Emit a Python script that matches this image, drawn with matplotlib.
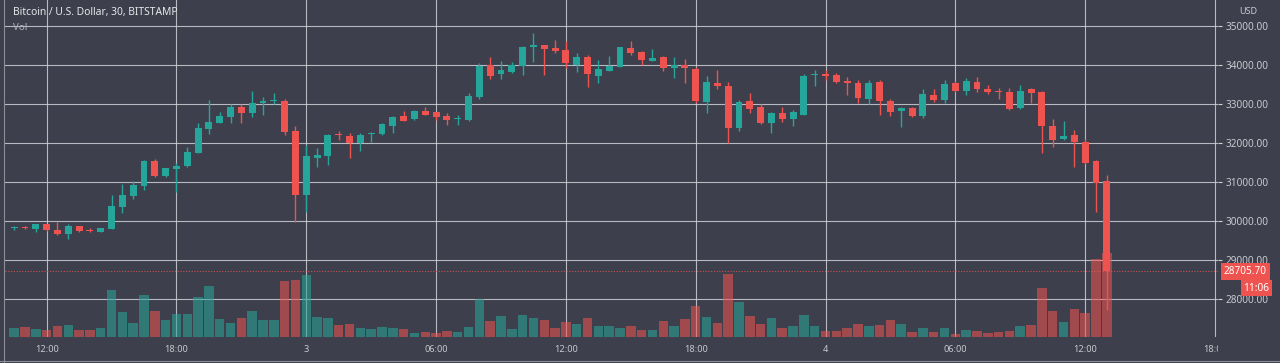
import numpy as np
import matplotlib
matplotlib.use("Agg")
import matplotlib.pyplot as plt
from matplotlib.lines import Line2D
from matplotlib.transforms import Affine2D, Bbox, TransformedBbox, blended_transform_factory

plt.rcParams["font.family"] = ["Noto Sans", "DejaVu Sans"]

BG = "#3d404c"
UP = "#26a69a"
DOWN = "#ef5350"
GRID = "#cfd1d6"
TXT = "#c8cad0"

# velas de 30 min, BTC/USD Bitstamp, del 2 (10:30) al 4 (13:00)
opens = [29820, 29840, 29793, 29921, 29767, 29664, 29861, 29745, 29724, 29801,
         30348, 30646, 30894, 31543, 31150, 31321, 31398, 31748, 32354, 32499,
         32670, 32909, 32772, 33029, 33060, 33080, 32303, 30663, 31620, 31671,
         32200, 32175, 32004, 32215, 32218, 32431, 32679, 32602, 32824, 32781,
         32696, 32615, 32585, 33183, 33994, 33755, 33814, 33976, 34446, 34497,
         34429, 34378, 33994, 34207, 33712, 33848, 33951, 34438, 34318, 34105,
         34190, 33908, 33994, 33891, 33055, 33541, 33456, 32389, 33072, 32927,
         32517, 32756, 32611, 32713, 33738, 33755, 33738, 33584, 33524, 33123,
         33567, 33072, 32824, 32884, 32696, 33225, 33097, 33523, 33336, 33566,
         33370, 33336, 33310, 32883, 33370, 33293, 32430, 32089, 32200, 32029,
         31534, 31022]
highs = [29880, 29870, 29930, 29925, 29980, 29921, 29880, 29818, 29830, 30663,
         30945, 31010, 31560, 31594, 31360, 31474, 31901, 32499, 33097, 32781,
         32994, 32994, 33327, 33165, 33268, 33114, 32439, 31944, 31859, 32226,
         32312, 32243, 32243, 32286, 32517, 32680, 32824, 32830, 32909, 32800,
         32756, 32713, 33268, 34053, 34207, 34104, 34079, 34480, 34805, 34515,
         34634, 34617, 34292, 34250, 34122, 34224, 34463, 34617, 34360, 34403,
         34225, 34207, 34147, 33951, 33712, 33866, 33550, 33097, 33268, 32995,
         32799, 32927, 32841, 33755, 33866, 33866, 33780, 33695, 33610, 33610,
         33610, 33123, 32910, 32927, 33371, 33379, 33609, 33592, 33651, 33677,
         33481, 33395, 33395, 33481, 33395, 33336, 32601, 32559, 32328, 32089,
         31560, 31176]
lows = [29760, 29790, 29724, 29740, 29647, 29528, 29720, 29720, 29710, 29780,
        30211, 30552, 30791, 31130, 31130, 30749, 31380, 31730, 32226, 32499,
        32516, 32499, 32653, 32713, 33000, 32200, 29980, 30237, 31372, 31432,
        32072, 31603, 31799, 32013, 32200, 32243, 32560, 32590, 32710, 32585,
        32457, 32457, 32570, 33114, 33626, 33635, 33800, 33737, 34062, 33737,
        34292, 33908, 33823, 33421, 33524, 33830, 33940, 34250, 34000, 34090,
        33849, 33652, 33524, 33012, 32773, 33371, 31987, 32303, 32756, 32483,
        32244, 32543, 32431, 32700, 33456, 33610, 33524, 33225, 33012, 32995,
        32713, 32687, 32414, 32670, 32628, 33055, 33011, 33310, 33225, 33310,
        33242, 33114, 32840, 32866, 33011, 31730, 31884, 32080, 31389, 31460,
        30236, 27718]
closes = [29830, 29810, 29921, 29767, 29664, 29878, 29750, 29735, 29818, 30373,
          30663, 30920, 31543, 31150, 31346, 31406, 31773, 32380, 32525, 32687,
          32909, 32772, 33029, 33071, 33080, 32268, 30663, 31662, 31688, 32192,
          32190, 31987, 32209, 32226, 32491, 32653, 32568, 32807, 32721, 32653,
          32585, 32625, 33200, 33976, 33712, 33866, 33994, 34463, 34497, 34412,
          34344, 34036, 34207, 33754, 33891, 33968, 34446, 34292, 34122, 34181,
          33908, 33994, 33908, 33080, 33550, 33464, 32389, 33055, 32867, 32517,
          32756, 32611, 32781, 33721, 33755, 33721, 33567, 33524, 33140, 33541,
          33080, 32798, 32884, 32696, 33242, 33097, 33498, 33336, 33592, 33370,
          33310, 33293, 32866, 33327, 33267, 32430, 32072, 32174, 32029, 31474,
          30979, 28705.70]
volumes = [232, 250, 193, 175, 283, 293, 175, 175, 225, 1175,
           625, 358, 1050, 643, 425, 568, 575, 993, 1275, 443,
           350, 468, 643, 425, 425, 1400, 1425, 1543, 495, 475,
           293, 333, 233, 193, 250, 225, 193, 108, 125, 108,
           150, 125, 250, 958, 393, 525, 193, 543, 483, 433,
           233, 375, 318, 483, 275, 275, 233, 275, 175, 175,
           400, 275, 458, 768, 500, 350, 1583, 868, 533, 318,
           475, 218, 275, 558, 275, 150, 150, 233, 318, 275,
           300, 418, 325, 125, 225, 113, 218, 75, 175, 158,
           93, 125, 158, 283, 300, 1218, 658, 368, 700, 593,
           1943, 2108]

time_ticks = [3, 15, 27, 39, 51, 63, 75, 87, 99, 111]
time_labels = ["12:00", "18:00", "3", "06:00", "12:00", "18:00",
               "4", "06:00", "12:00", "18:00"]
price_ticks = [28000, 29000, 30000, 31000, 32000, 33000, 34000, 35000]
last_price = 28705.70
countdown = "11:06"

VOL_TOP = 8425  # volumen que llega al borde superior del panel

fig = plt.figure(figsize=(12.8, 3.63), dpi=100, facecolor=BG)
W, H = 1280, 363
ax = fig.add_axes([5 / W, (H - 337) / H, (1218 - 5) / W, 337 / H])
ax.set_facecolor(BG)
for s in ax.spines.values():
    s.set_visible(False)

x = np.arange(len(opens))
o, h, l, c = (np.array(v, dtype=float) for v in (opens, highs, lows, closes))
up = c >= o
colors = np.where(up, UP, DOWN)

# volumen en la parte baja del panel (escala propia)
vol_y = Affine2D().scale(1, 1 / VOL_TOP) + ax.transAxes
vol_trans = blended_transform_factory(ax.transData, vol_y)
ax.bar(x, volumes, width=0.88, color=colors, alpha=0.56, linewidth=0,
       transform=vol_trans, zorder=2)

# velas
ax.vlines(x, l, h, colors=colors, linewidth=1, zorder=3)
ax.bar(x, np.maximum(np.abs(c - o), 25), bottom=np.minimum(o, c), width=0.64,
       color=colors, linewidth=0, zorder=4)

ax.axhline(last_price, color=DOWN, linestyle=(0, (1, 1.5)), linewidth=0.8,
           alpha=0.8, zorder=2.5)

ax.set_xlim(-0.85, 111.28)
ax.set_ylim(27026, 35658)

ax.set_xticks(time_ticks)
ax.set_xticklabels(time_labels)
ax.set_yticks(price_ticks)
ax.set_yticklabels([f"{p:.2f}" for p in price_ticks])
ax.yaxis.tick_right()
ax.tick_params(axis="x", length=0, pad=5.5, labelsize=6.6, labelcolor=TXT)
ax.tick_params(axis="y", length=3, width=0.8, color=GRID, pad=2.3,
               labelsize=7.2, labelcolor=TXT)
ax.set_axisbelow(True)
ax.grid(True, color=GRID, linewidth=0.8, alpha=0.85)

# etiquetas de precio actual y cuenta regresiva
lbl_trans = blended_transform_factory(ax.transAxes, ax.transData)
ax.annotate(f"{last_price:.2f}", xy=(1, last_price), xycoords=lbl_trans,
            xytext=(6, 0), textcoords="offset pixels", ha="left", va="center",
            fontsize=7.2, color="white", annotation_clip=False,
            bbox=dict(boxstyle="square,pad=0.32", fc=DOWN, ec="none"))
ax.annotate(countdown, xy=(1, last_price), xycoords=lbl_trans,
            xytext=(51, -17), textcoords="offset pixels", ha="right", va="center",
            fontsize=7.2, color="white", annotation_clip=False,
            bbox=dict(boxstyle="square,pad=0.25", fc=DOWN, ec="none"))

fig.text(1248 / W, 1 - 12 / H, "USD", ha="center", va="center",
         fontsize=6.5, color=TXT)
fig.text(13 / W, 1 - 13 / H, "Bitcoin / U.S. Dollar, 30, BITSTAMP",
         ha="left", va="center", fontsize=7.4, fontweight="bold", color="#e6e7ea")
fig.text(13 / W, 1 - 27 / H, "Vol", ha="left", va="center",
         fontsize=7, color="#b0b3bb")

# borde fino de la captura
fig.add_artist(Line2D([4 / W, 4 / W], [0, 1], color="#8b8e97", linewidth=0.8))
fig.add_artist(Line2D([0, 1], [2 / H, 2 / H], color="#8b8e97", linewidth=0.8))

# la última hora queda cortada por la escala de precios
fig.canvas.draw()
clip = TransformedBbox(Bbox([[0, 0], [1218 / W, 1]]), fig.transFigure)
for t in ax.get_xticklabels():
    t.set_clip_on(True)
    t.set_clip_box(clip)

fig.savefig("out.png", dpi=100, facecolor=BG)
